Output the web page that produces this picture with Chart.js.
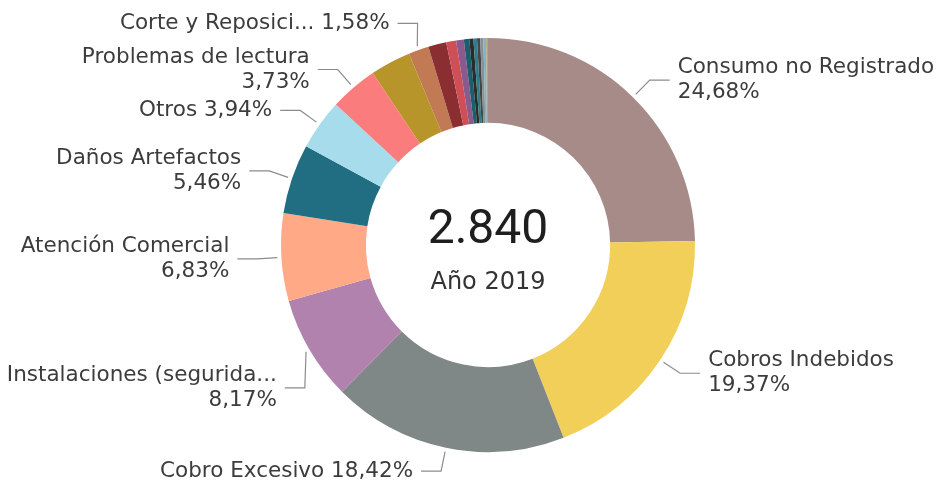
<!DOCTYPE html>
<html>
<head>
<meta charset="utf-8">
<script src="https://cdn.jsdelivr.net/npm/chart.js@4.4.1/dist/chart.umd.min.js"></script>
<style>
  html, body { margin: 0; padding: 0; background: #fff; }
  #wrap { width: 943px; height: 486px; position: relative; }
</style>
</head>
<body>
<div id="wrap"><canvas id="chart"></canvas></div>
<script>
// Reclamos por tipo, año 2019
const categories = [
  "Consumo no Registrado", "Cobros Indebidos", "Cobro Excesivo", "Instalaciones (segurida...",
  "Atención Comercial", "Daños Artefactos", "Otros", "Problemas de lectura",
  "Categoría 9", "Corte y Reposici...", "Categoría 11", "Categoría 12", "Categoría 13",
  "Categoría 14", "Categoría 15", "Categoría 16", "Categoría 17", "Categoría 18", "Categoría 19", "Categoría 20"
];
const counts = [701, 550, 523, 232, 194, 155, 112, 106, 90, 45, 40, 22, 17, 12, 9, 8, 7, 7, 6, 4];
const colors = [
  "#a68b89", "#f2cf58", "#7f8787", "#b182ae", "#ffa987", "#216e82", "#a6dcec", "#fb7c7c",
  "#b8952a", "#c27a54", "#8a2e32", "#cf4f57", "#8b5a8c", "#1b5e6e", "#2b2b2b", "#2f7c8a",
  "#454545", "#8a8f93", "#7fb3c6", "#b3a66e"
];
// 2 = nombre y porcentaje en dos líneas, 1 = una línea, 0 = sin etiqueta
const labelLines = [2, 2, 1, 2, 2, 2, 1, 2, 0, 1, 0, 0, 0, 0, 0, 0, 0, 0, 0, 0];
const centerCaption = "Año 2019";

const total = counts.reduce((s, v) => s + v, 0);

function fmtThousands(n) {
  return String(n).replace(/\B(?=(\d{3})+(?!\d))/g, ".");
}
function pct(v) {
  return (v / total * 100).toFixed(2).replace(".", ",") + "%";
}

const LABEL_FONT = "21.5px 'DejaVu Sans', sans-serif";

// labels outside with leader lines + center text
const donutLabels = {
  id: "donutLabels",
  afterDatasetsDraw(chart, args, opts) {
    const ctx = chart.ctx;
    const arcs = chart.getDatasetMeta(0).data;
    const nudge = opts.nudge || {};
    ctx.save();
    arcs.forEach((arc, i) => {
      const mode = labelLines[i];
      if (!mode) return;
      const n = nudge[i] || {};
      const a = (arc.startAngle + arc.endAngle) / 2;
      const c = Math.cos(a), s = Math.sin(a);
      const R = arc.outerRadius;
      const x0 = arc.x + (R + 4) * c, y0 = arc.y + (R + 4) * s;
      const x1 = arc.x + (R + 24) * c + (n.dx || 0);
      const y1 = arc.y + (R + 24) * s + (n.dy || 0);
      const right = c >= 0;
      const x2 = x1 + (right ? 20 : -20);

      ctx.strokeStyle = "#8c8c8c";
      ctx.lineWidth = 1.2;
      ctx.beginPath();
      ctx.moveTo(x0, y0);
      ctx.lineTo(x1, y1);
      ctx.lineTo(x2, y1);
      ctx.stroke();

      ctx.fillStyle = "#3c3c3c";
      ctx.font = LABEL_FONT;
      ctx.textAlign = right ? "left" : "right";
      ctx.textBaseline = "middle";
      const tx = x2 + (right ? 8 : -8);
      if (mode === 2) {
        ctx.fillText(categories[i], tx, y1 - 12.5);
        ctx.fillText(pct(counts[i]), tx, y1 + 12.5);
      } else {
        ctx.fillText(categories[i] + " " + pct(counts[i]), tx, y1);
      }
    });

    const cx = arcs[0].x, cy = arcs[0].y;
    ctx.textAlign = "center";
    ctx.textBaseline = "middle";
    ctx.fillStyle = "#1e1e1e";
    ctx.font = "48px Roboto, sans-serif";
    ctx.fillText(fmtThousands(total), cx, cy - 14);
    ctx.fillStyle = "#333";
    ctx.font = "24px 'DejaVu Sans', sans-serif";
    ctx.fillText(centerCaption, cx, cy + 38);
    ctx.restore();
  }
};

new Chart(document.getElementById("chart"), {
  type: "doughnut",
  data: {
    labels: categories,
    datasets: [{
      data: counts,
      backgroundColor: colors,
      borderWidth: 0
    }]
  },
  options: {
    responsive: true,
    maintainAspectRatio: false,
    animation: false,
    cutout: "59%",
    layout: { padding: { top: 38, bottom: 34, left: 281, right: 248 } },
    plugins: {
      legend: { display: false },
      tooltip: { enabled: false },
      donutLabels: { nudge: { 3: { dx: 16, dy: 26 }, 9: { dx: 7, dy: -4 } } }
    }
  },
  plugins: [donutLabels]
});
</script>
</body>
</html>
